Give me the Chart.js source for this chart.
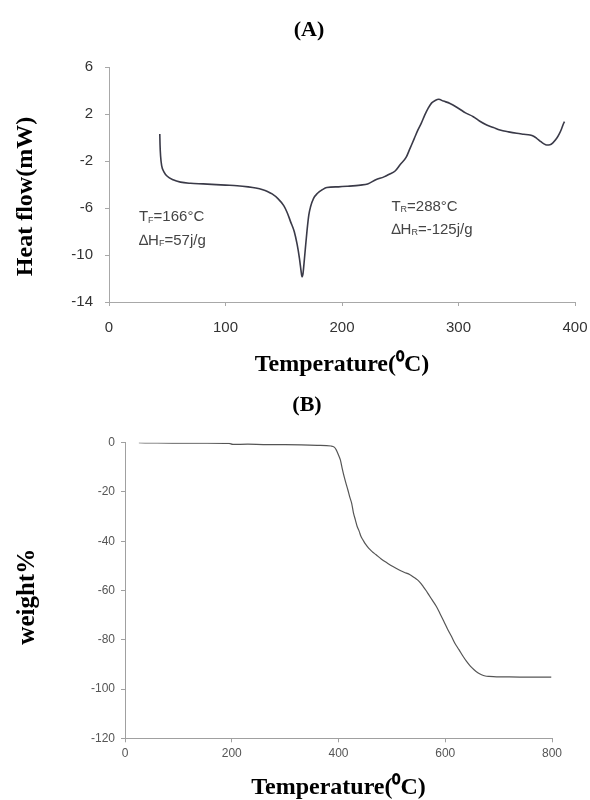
<!DOCTYPE html>
<html>
<head>
<meta charset="utf-8">
<script src="https://cdn.jsdelivr.net/npm/chart.js@4/dist/chart.umd.min.js"></script>
<style>
html,body{margin:0;padding:0;background:#fff;}
.panel{position:absolute;left:0;}
</style>
</head>
<body>
<div class="panel" style="top:0px"><canvas id="chartA" width="590" height="390"></canvas></div>
<div class="panel" style="top:390px"><canvas id="chartB" width="590" height="410"></canvas></div>
<script>
// ---------- DATA ----------
// (A) DSC curve
const dscTemp = [43.6,43.8,44.3,45.2,47,50,55,61.4,70,80.8,100,110,119.5,126,132,136,140,145,150,153,156,159,161.5,163.5,164.8,165.6,166.5,167.5,168.5,170,171.5,173,175.5,179,183,187,197,205,216,222,229,236,241,245.6,250,255,258.5,262,265,268,271,274,277,280,283,287,292.7,300.5,306,312.7,318,324.2,330,335.6,343,350,356,361.4,364.5,367.1,370,373,375.7,378.5,381,384.3,386.5,388.5,390,391];
const dscHeat = [0.3,-0.6,-1.6,-2.4,-2.9,-3.3,-3.6,-3.8,-3.9,-3.95,-4.05,-4.1,-4.2,-4.3,-4.45,-4.6,-4.8,-5.2,-5.8,-6.4,-7.2,-8.0,-9.1,-10.3,-11.3,-11.85,-11.6,-10.6,-9.5,-7.9,-6.6,-5.9,-5.2,-4.75,-4.45,-4.25,-4.2,-4.15,-4.05,-3.95,-3.6,-3.35,-3.1,-2.85,-2.3,-1.7,-0.9,-0.1,0.6,1.2,1.9,2.5,2.95,3.15,3.25,3.1,2.9,2.45,2.1,1.77,1.4,1.06,0.85,0.64,0.48,0.36,0.28,0.21,0.1,-0.07,-0.3,-0.52,-0.64,-0.62,-0.45,-0.07,0.3,0.75,1.15,1.35];
const dscXTicks = [0,100,200,300,400];
const dscYTicks = [-14,-10,-6,-2,2,6];

// (B) TGA curve
const tgaTemp = [26,60,100,150,195,202,230,259,300,330,360,386,392,396,400,403.5,407,410.6,414,417.6,421,424.7,428,431.7,435,438.8,442,445.9,450,456.4,463,470.5,480,491.7,502,512.9,523,534,541,548,553,558.7,564,569.3,576,583.4,590,597.5,604,611.6,618,625.7,633,639.9,647,654,661,668,675,682,696,720,760,798.6];
const tgaWeight = [0,-0.1,-0.15,-0.2,-0.3,-0.7,-0.6,-0.75,-0.8,-0.9,-1.1,-1.35,-1.8,-3,-5,-7,-10.5,-13.8,-16.5,-19.2,-22,-24.6,-28.5,-31.4,-34,-36,-38,-39.5,-41,-42.8,-44.2,-45.5,-47.2,-48.9,-50.3,-51.6,-52.6,-53.6,-54.6,-55.7,-56.8,-58.4,-60,-61.8,-64,-66.5,-69.3,-72.6,-75.5,-78.6,-81.4,-84,-86.6,-88.8,-90.7,-92.2,-93.4,-94.2,-94.7,-94.9,-95.1,-95.1,-95.2,-95.2];
const tgaXTicks = [0,200,400,600,800];
const tgaYTicks = [-120,-100,-80,-60,-40,-20,0];

// annotation texts (A)
const dscNoteMain = ['T','\u2206H','T','\u2206H'];
const dscNoteSub  = ['F','F','R','R'];
const dscNoteRest = ['=166\u00b0C','=57j/g','=288\u00b0C','=-125j/g'];
const dscNoteT = [25.7,25.7,242.4,242.4];
const dscNoteV = [-6.77,-8.8,-5.9,-7.87];

// ---------- HELPERS ----------
const SERIF = '"Liberation Serif","Times New Roman",serif';
const SANS = '"Liberation Sans",Arial,sans-serif';

const notesPlugin = {
  id: 'notes',
  afterDatasetsDraw(chart, args, opts) {
    if (!opts.main) return;
    const {ctx} = chart;
    const xs = chart.scales.x, ys = chart.scales.y;
    ctx.save();
    ctx.fillStyle = opts.color;
    ctx.textBaseline = 'middle';
    ctx.textAlign = 'left';
    const big = opts.size + 'px ' + SANS;
    const small = Math.round(opts.size * 0.6) + 'px ' + SANS;
    opts.main.forEach((m, i) => {
      let px = xs.getPixelForValue(opts.t[i]);
      const py = ys.getPixelForValue(opts.v[i]);
      ctx.font = big; ctx.fillText(m, px, py); px += ctx.measureText(m).width;
      ctx.font = small; ctx.fillText(opts.sub[i], px, py + opts.size * 0.2); px += ctx.measureText(opts.sub[i]).width;
      ctx.font = big; ctx.fillText(opts.rest[i], px, py);
    });
    ctx.restore();
  }
};

function toPoints(xs, ys) { return xs.map((x, i) => ({x: x, y: ys[i]})); }

function makeChart(id, cfg) {
  return new Chart(document.getElementById(id), {
    type: 'line',
    data: { datasets: [{
      data: toPoints(cfg.xData, cfg.yData),
      borderColor: cfg.lineColor, borderWidth: cfg.lineWidth,
      pointRadius: 0, fill: false, cubicInterpolationMode: 'monotone'
    }]},
    options: {
      responsive: false, animation: false, devicePixelRatio: 1,
      layout: { padding: { left: cfg.padLeft, right: cfg.padRight, top: 0, bottom: 0 }, autoPadding: false },
      plugins: {
        legend: { display: false }, tooltip: { enabled: false },
        title: { display: true, text: cfg.title, color: '#000',
          font: { family: SERIF, size: 22, weight: 'bold', lineHeight: 1.2 },
          padding: { top: cfg.titleTop, bottom: cfg.titleBottom } },
        notes: cfg.notes || {}
      },
      scales: {
        x: { type: 'linear', min: cfg.xTicks[0], max: cfg.xTicks[cfg.xTicks.length - 1],
          afterBuildTicks: s => { s.ticks = cfg.xTicks.map(v => ({value: v})); },
          afterFit: s => { s.height = cfg.xAxisHeight; s.paddingLeft = 0; s.paddingRight = 0; },
          grid: { drawOnChartArea: false, drawTicks: true, tickLength: 4, color: cfg.axisColor },
          border: { display: true, color: cfg.axisColor, width: 1 },
          ticks: { color: cfg.tickColor, padding: cfg.xTickPad, font: { family: SANS, size: cfg.tickSize }, maxRotation: 0 },
          title: { display: true, text: 'Temperature(\u2070C)', color: '#000',
            font: { family: SERIF, size: 24, weight: 'bold', lineHeight: 1.2 },
            padding: { top: 0, bottom: cfg.xTitlePad } } },
        y: { type: 'linear', min: cfg.yTicks[0], max: cfg.yTicks[cfg.yTicks.length - 1],
          afterBuildTicks: s => { s.ticks = cfg.yTicks.map(v => ({value: v})); },
          afterFit: s => { s.width = cfg.yAxisWidth; s.paddingTop = 0; s.paddingBottom = 0; },
          grid: { drawOnChartArea: false, drawTicks: true, tickLength: 4, color: cfg.axisColor },
          border: { display: true, color: cfg.axisColor, width: 1 },
          ticks: { color: cfg.tickColor, padding: cfg.yTickPad, font: { family: SANS, size: cfg.tickSize } },
          title: { display: true, text: cfg.yTitle, color: '#000',
            font: { family: SERIF, size: cfg.yTitleSize, weight: 'bold', lineHeight: 1.2 },
            padding: { top: cfg.yTitlePad, bottom: 0 } } }
      }
    },
    plugins: [notesPlugin]
  });
}

makeChart('chartA', {
  xData: dscTemp, yData: dscHeat, xTicks: dscXTicks, yTicks: dscYTicks,
  title: '(A)', titleTop: 16.8, titleBottom: 23.8,
  padLeft: 43, padRight: 15, yAxisWidth: 66, xAxisHeight: 88,
  lineColor: '#3a3a48', lineWidth: 1.6, axisColor: '#a8a8a8',
  tickColor: '#333', tickSize: 15, xTickPad: 13, yTickPad: 12,
  xTitlePad: 10.6, yTitle: 'Heat flow(mW)    ', yTitleSize: 24, yTitlePad: -31.8,
  notes: { color: '#444', size: 15, main: dscNoteMain, sub: dscNoteSub, rest: dscNoteRest, t: dscNoteT, v: dscNoteV }
});

makeChart('chartB', {
  xData: tgaTemp, yData: tgaWeight, xTicks: tgaXTicks, yTicks: tgaYTicks,
  title: '(B)', titleTop: 1.8, titleBottom: 24.5,
  padLeft: 62, padRight: 38, yAxisWidth: 63, xAxisHeight: 61.7,
  lineColor: '#555', lineWidth: 1.2, axisColor: '#a0a0a0',
  tickColor: '#555', tickSize: 12, xTickPad: 4, yTickPad: 6,
  xTitlePad: -2.4, yTitle: 'weight%  ', yTitleSize: 25, yTitlePad: -49
});
</script>
</body>
</html>
